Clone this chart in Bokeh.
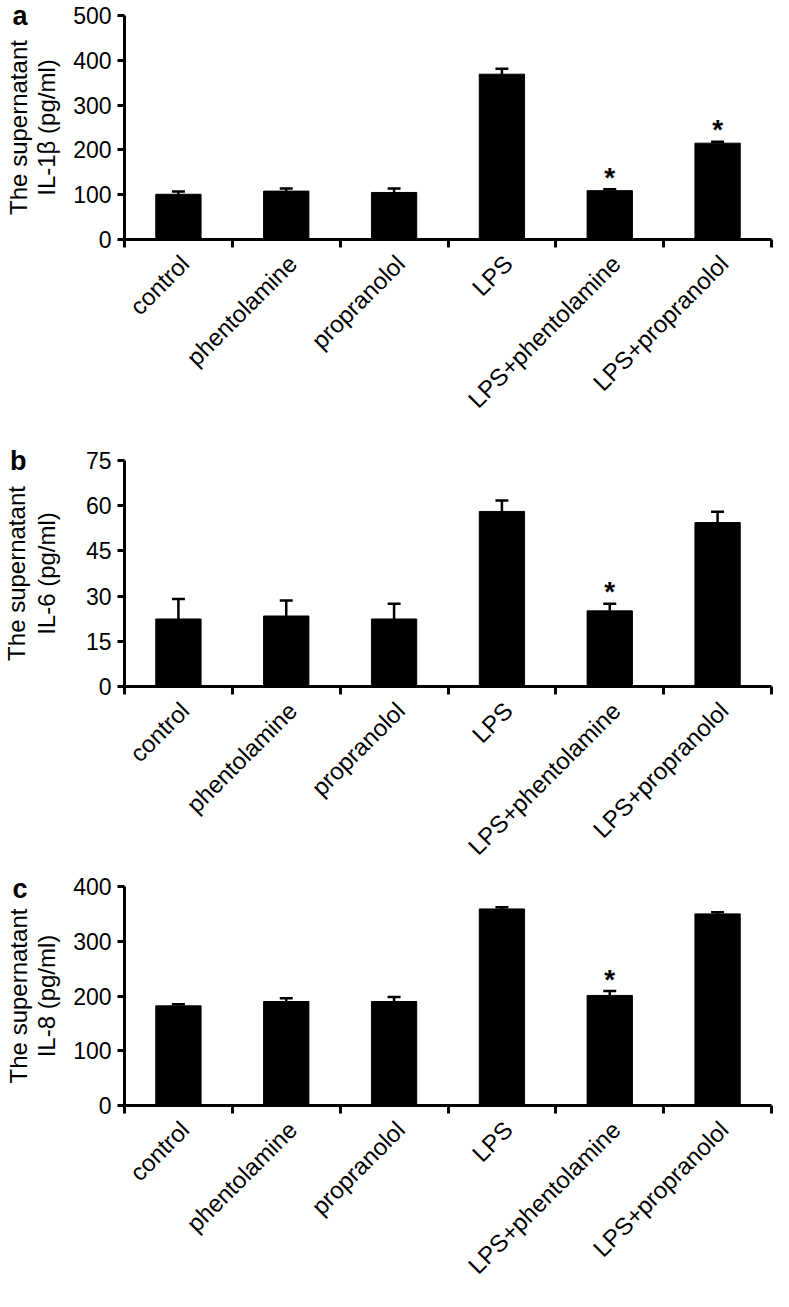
import math
from bokeh.plotting import figure
from bokeh.layouts import column
from bokeh.models import (Range1d, FixedTicker, Whisker, TeeHead, ColumnDataSource,
                          LinearAxis)
from bokeh.core.properties import value
from bokeh.embed import file_html
from bokeh.resources import INLINE

categories = ["control", "phentolamine", "propranolol", "LPS",
              "LPS+phentolamine", "LPS+propranolol"]

il1b_mean = [101, 108, 105, 369, 109, 215]
il1b_err = [6, 6, 9, 12, 3, 3]
il1b_sig = [False, False, False, False, True, True]

il6_mean = [22.4, 23.4, 22.4, 58.1, 25.1, 54.4]
il6_err = [6.6, 5.1, 5.1, 3.6, 2.4, 3.6]
il6_sig = [False, False, False, False, True, False]

il8_mean = [182, 190, 190, 359, 201, 350]
il8_err = [3, 6, 8, 3, 8, 3]
il8_sig = [False, False, False, False, True, False]

FONT = "Liberation Sans"
LABEL_SHIFT = 0.06  # group-name anchor, slightly right of the bar centre


def panel(letter, line1, line2, means, errs, sig, ymax, ystep, height, btop, bbottom,
          lab_standoff):
    xs = [i + 0.5 for i in range(len(categories))]
    p = figure(width=773, height=height, output_backend="svg", toolbar_location=None,
               x_range=Range1d(0, len(categories)), y_range=Range1d(0, ymax),
               min_border_left=124, min_border_right=2,
               min_border_top=btop, min_border_bottom=bbottom)
    p.outline_line_color = None
    p.xgrid.grid_line_color = None
    p.ygrid.grid_line_color = None

    src = ColumnDataSource(dict(x=xs, top=means,
                                upper=[m + e for m, e in zip(means, errs)]))
    p.vbar(x="x", top="top", bottom=0, width=0.42, source=src,
           fill_color="black", line_color="black", line_width=1)
    p.add_layout(Whisker(source=src, base="x", lower="top", upper="upper",
                         dimension="height", line_width=2.5, line_color="black",
                         upper_head=TeeHead(size=13, line_width=2.5, line_color="black"),
                         lower_head=None))

    sx = [x for x, s in zip(xs, sig) if s]
    sy = [m + e for m, e, s in zip(means, errs, sig) if s]
    p.text(x=sx, y=sy, text=["*"] * len(sx), text_font=value(FONT),
           text_font_style="bold", text_font_size="28px", text_align="center",
           text_baseline="alphabetic", y_offset=-12, text_color="black")

    # x axis: group names near bar centres, tick marks at group boundaries
    lx = [x + LABEL_SHIFT for x in xs]
    xa = p.xaxis[0]
    xa.ticker = FixedTicker(ticks=lx, minor_ticks=list(range(len(categories) + 1)))
    xa.major_label_overrides = {x: c for x, c in zip(lx, categories)}
    xa.major_label_orientation = math.pi / 4
    xa.major_tick_line_color = None
    xa.major_tick_out = 0
    xa.major_tick_in = 0
    xa.minor_tick_line_color = "black"
    xa.minor_tick_line_width = 3
    xa.minor_tick_out = 8
    xa.minor_tick_in = 0
    xa.axis_line_width = 3
    xa.axis_line_color = "black"
    xa.major_label_text_font = FONT
    xa.major_label_text_font_size = "24px"
    xa.major_label_text_color = "black"
    xa.major_label_standoff = 12

    ya = p.yaxis[0]
    ya.ticker = FixedTicker(ticks=[i * ystep for i in range(int(round(ymax / ystep)) + 1)])
    ya.axis_line_width = 3
    ya.axis_line_color = "black"
    ya.major_tick_line_width = 3
    ya.major_tick_line_color = "black"
    ya.major_tick_out = 7
    ya.major_tick_in = 0
    ya.minor_tick_line_color = None
    ya.major_label_text_font = FONT
    ya.major_label_text_font_size = "23px"
    ya.major_label_text_color = "black"
    ya.major_label_standoff = 6
    ya.axis_label = line2
    ya.axis_label_text_font = FONT
    ya.axis_label_text_font_size = "24px"
    ya.axis_label_text_font_style = "normal"
    ya.axis_label_text_color = "black"
    ya.axis_label_standoff = lab_standoff

    # outer left axis: panel letter at the top, first title line
    outer = LinearAxis(ticker=FixedTicker(ticks=[ymax]), axis_line_color=None,
                       major_tick_line_color=None, minor_tick_line_color=None,
                       major_tick_out=0, major_tick_in=0, major_label_standoff=3,
                       major_label_overrides={ymax: letter},
                       major_label_text_font=FONT, major_label_text_font_size="27px",
                       major_label_text_font_style="bold", major_label_text_color="black",
                       axis_label=line1, axis_label_standoff=-23,
                       axis_label_text_font=FONT, axis_label_text_font_size="24px",
                       axis_label_text_font_style="normal", axis_label_text_color="black")
    p.add_layout(outer, "left")
    return p


pa = panel("a", "The supernatant", "IL-1β (pg/ml)", il1b_mean, il1b_err, il1b_sig,
           500, 100, 438, 15, 199, 10)
pb = panel("b", "The supernatant", "IL-6 (pg/ml)", il6_mean, il6_err, il6_sig,
           75, 15, 434, 22, 186, 23)
pc = panel("c", "The supernatant", "IL-8 (pg/ml)", il8_mean, il8_err, il8_sig,
           400, 100, 419, 14, 182, 10)

layout = column(pa, pb, pc, spacing=0)
open("out.html", "w").write(file_html(layout, INLINE))
